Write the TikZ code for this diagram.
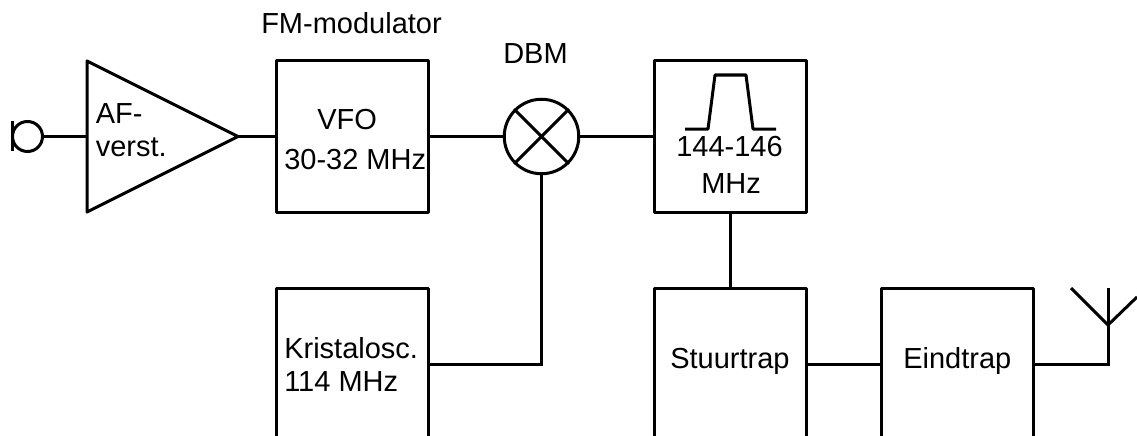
\documentclass[tikz,border=0pt]{standalone}
\usepackage{fontspec}
\setmainfont{Liberation Sans}
\begin{document}
\begin{tikzpicture}[x=0.75pt,y=-0.75pt,
  line join=miter,
  wire/.style={line width=2.25pt},
  blockbox/.style={draw,line width=2.25pt,minimum width=152*0.75pt,minimum height=152*0.75pt,inner sep=0pt,anchor=center,line join=round},
  lbl/.style={anchor=base west,inner sep=0pt,font=\fontsize{21.75}{26}\selectfont,text=black}]
\useasboundingbox (0,0) rectangle (1137,435);
\clip (0,0) rectangle (1137,435);
% blocks
\node[blockbox] (vfo) at (352,136.5) {};
\node[blockbox] (filt) at (730,136.5) {};
\node[blockbox] (xtal) at (352,364) {};
\node[blockbox] (stuur) at (730,364) {};
\node[blockbox] (eind) at (957,364) {};
\node[draw,circle,line width=2.25pt,minimum size=74.5*0.75pt,inner sep=0pt] (mix) at (541.5,136.5) {};
\node[draw,circle,line width=2.25pt,minimum size=30*0.75pt,inner sep=0pt] (mic) at (27.5,136.5) {};
% amplifier triangle
\coordinate (ampin) at (87,136.5);
\coordinate (ampout) at (238,136.5);
\draw[wire,line join=round] (87,61) -- (ampout) -- (87,212) -- cycle;
% mixer cross
\draw[wire] (mix.45) -- (mix.225) (mix.135) -- (mix.315);
% mic bar
\coordinate (bart) at (12,121);
\coordinate (barb) at (12,151);
\draw[wire] (bart) -- (barb);
% connectors
\draw[wire] (mic.east) -- (ampin);
\draw[wire] (ampout) -- (vfo.west);
\draw[wire] (vfo.east) -- (mix.west);
\draw[wire] (mix.east) -- (filt.west);
\draw[wire] (filt.south) -- (stuur.north);
\draw[wire] (xtal.east) -| (mix.south);
\draw[wire] (stuur.east) -- (eind.west);
% antenna
\coordinate (antj) at (1108,325);
\coordinate (antt) at (1108,288);
\coordinate (antl) at (1071,288);
\coordinate (antr) at (1137,297);
\draw[wire] (eind.east) -| (antt);
\draw[wire] (antl) -- (antj) -- (antr);
% bandpass symbol
\draw[wire,line join=round] (685,129) -- (708,129) -- (715,75) -- (746,75) -- (753,129) -- (776,129);
% labels
\node[lbl] (t1) at (261,34) {FM-modulator};
\node[lbl] (t2) at (503,64) {DBM};
\node[lbl] (t3) at (95.5,123) {AF-};
\node[lbl] (t4) at (95.5,156) {verst.};
\node[lbl] (t5) at (317,129) {VFO};
\node[lbl] (t6) at (284,169) {30-32 MHz};
\node[lbl] (t7) at (676,156) {144-146};
\node[lbl] (t8) at (701,193) {MHz};
\node[lbl] (t9) at (284,358) {Kristalosc.};
\node[lbl] (t10) at (284,391) {114 MHz};
\node[lbl] (t11) at (670,368) {Stuurtrap};
\node[lbl] (t12) at (903,368) {Eindtrap};
\end{tikzpicture}
\end{document}
